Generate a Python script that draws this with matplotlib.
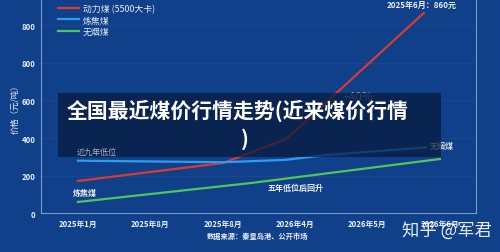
import matplotlib

matplotlib.use("Agg")
import matplotlib.pyplot as plt
from matplotlib.patches import Rectangle

plt.rcParams["font.family"] = ["Noto Sans CJK SC", "DejaVu Sans"]

# x positions in month-tick units (0 = first tick)
months = ["2025年1月", "2025年8月", "2025年8月", "2026年4月", "2026年5月", "2026年6月"]
y_ticks = [0, 200, 400, 600, 800, 1000]
y_tick_labels = ["0", "200", "400", "600", "800", "800"]

power_x = [0, 2.01, 2.88, 4.78]
power_y = [171, 267, 395, 1067]
coking_x = [0, 2.01, 2.85, 3.43, 4.81]
coking_y = [279, 271, 283, 309, 350]
anthracite_x = [0, 2.39, 5.0]
anthracite_y = [59, 160, 288]

BG = "#10408a"
RED = "#d83a34"
BLUE = "#2b9ef2"
GREEN = "#52c45c"
TXT = "#e8eef8"

fig = plt.figure(figsize=(5.0, 2.53), dpi=100, facecolor=BG)
ax = fig.add_axes([0.082, 0.154, 0.870, 0.846], facecolor=BG)

ax.plot(power_x, power_y, color=RED, lw=1.6, zorder=3, label="动力煤 (5500大卡)")
ax.plot(coking_x, coking_y, color=BLUE, lw=1.6, zorder=3, label="炼焦煤")
ax.plot(anthracite_x, anthracite_y, color=GREEN, lw=1.6, zorder=3, label="无烟煤")

ax.set_xlim(-0.51, 5.5)
ax.set_ylim(0, 1141)
ax.set_xticks(range(len(months)))
ax.set_xticklabels(months, fontsize=5.6, color=TXT, fontweight="bold")
ax.set_yticks(y_ticks)
ax.set_yticklabels(y_tick_labels, fontsize=5.6, color=TXT, fontweight="bold")
ax.tick_params(length=0, pad=4)
ax.set_ylabel("价格（元/吨）", fontsize=6, color=TXT, labelpad=2)
ax.grid(axis="y", color="#2a5498", lw=0.6, alpha=0.5)

ax.spines["top"].set_visible(False)
for side in ("left", "bottom", "right"):
    ax.spines[side].set_color("#7d9bcc")
    ax.spines[side].set_linewidth(0.8)

leg = ax.legend(loc="upper left", bbox_to_anchor=(0.02, 1.015), frameon=False,
                fontsize=6.4, handlelength=2.4, handletextpad=0.4, labelspacing=0.3)
for t in leg.get_texts():
    t.set_color(TXT)

# annotations on the chart
ax.text(4.26, 1110, "2025年6月：860元", fontsize=5.8, color=TXT, fontweight="bold",
        ha="left", va="center")
ax.text(3.65, 622, "+40%", fontsize=8.5, color="#8c9bb5", ha="left", va="center", zorder=1)
ax.text(-0.07, 112, "炼焦煤", fontsize=5.8, color=TXT, fontweight="bold", ha="left", va="center")
ax.text(2.62, 139, "五年低位后回升", fontsize=5.8, color=TXT, fontweight="bold", ha="left", va="center")
ax.text(4.86, 362, "无烟煤", fontsize=5.8, color="#d0d8e6", fontweight="bold", ha="left", va="center")

# dark title overlay
fig.patches.append(Rectangle((58 / 500, 1 - 158 / 253), (441 - 58) / 500, (158 - 94) / 253,
                             transform=fig.transFigure, facecolor="#071a3c", alpha=0.72,
                             edgecolor="none", zorder=5))
fig.text(67 / 500, 1 - 111 / 253, "全国最近煤价行情走势(近来煤价行情", fontsize=15,
         color="white", fontweight="bold", ha="left", va="center", zorder=7)
fig.text(245 / 500, 1 - 139 / 253, ")", fontsize=15, color="white", fontweight="bold",
         ha="center", va="center", zorder=7)
fig.text(77 / 500, 1 - 152 / 253, "近九年低位", fontsize=5.8, color="#a9b3c4",
         ha="left", va="center", zorder=7)

fig.text(258 / 500, 1 - 236 / 253, "数据来源：秦皇岛港、公开市场", fontsize=5.2, color=TXT,
         fontweight="bold", ha="center", va="center")
fig.text(447 / 500, 1 - 231 / 253, "知乎 @军君", fontsize=12.5, color="white", alpha=0.9,
         ha="center", va="center")

fig.savefig("out.png", dpi=100, facecolor=BG)
